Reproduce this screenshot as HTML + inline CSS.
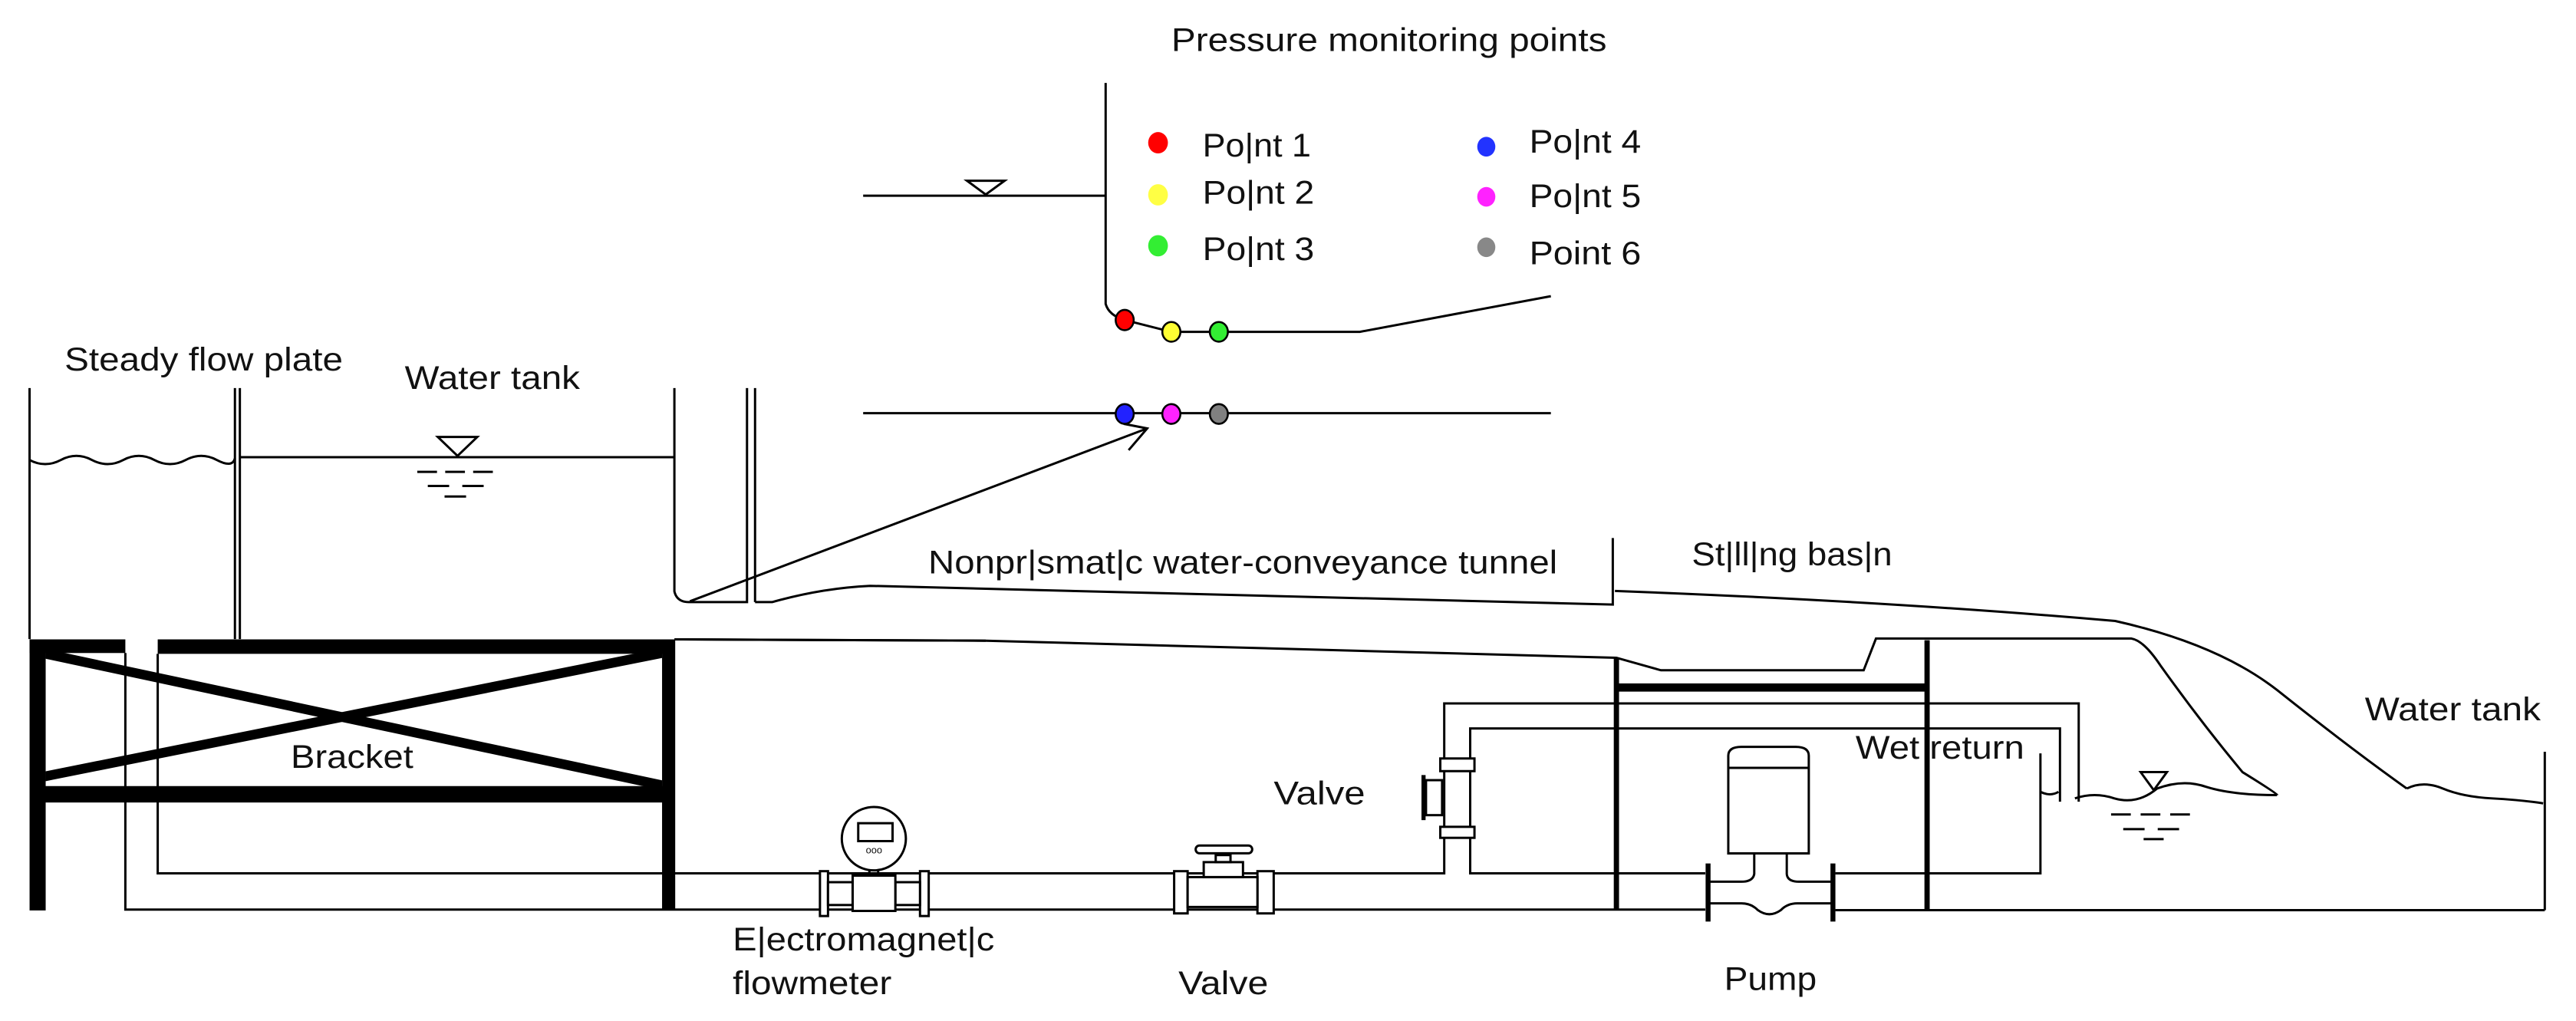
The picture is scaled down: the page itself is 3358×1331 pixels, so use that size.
<!DOCTYPE html>
<html><head><meta charset="utf-8"><style>
html,body{margin:0;padding:0;background:#fff;}
svg{display:block;}
text{font-family:"Liberation Sans",Arial,sans-serif;font-size:20px;fill:#111;}
</style></head><body>
<svg width="3358" height="1331" viewBox="0 0 1568 621.5" xmlns="http://www.w3.org/2000/svg">
<g fill="none" stroke="#000" stroke-width="1.4">
<!-- top detail -->
<line x1="525.4" y1="119.1" x2="673" y2="119.1"/>
<polygon points="588.6,110 611.5,110 600,118.4"/>
<path d="M673 50.5 L673 185 Q675 192 684.6 194.8 L713 202 L827.7 202 L944 180.3"/>
<line x1="525.4" y1="251.5" x2="944" y2="251.5"/>
<!-- arrow -->
<line x1="420" y1="366" x2="698.3" y2="260.8"/>
<polyline points="684,258 698.3,260.8 687,274"/>
<!-- left tank -->
<line x1="18" y1="236.2" x2="18" y2="389"/>
<path d="M18 280 q9.5 5 19 0 t19 0 t19 0 t19 0 t19 0 t19 0 t11 -1"/>
<line x1="143" y1="236.2" x2="143" y2="389"/>
<line x1="146" y1="236.2" x2="146" y2="389"/>
<line x1="146" y1="278.3" x2="410.5" y2="278.3"/>
<polygon points="266.5,266 290.5,266 278.5,277.5"/>
<line x1="254" y1="287.2" x2="300.7" y2="287.2" stroke-dasharray="12,5"/>
<line x1="260.4" y1="295.8" x2="296.5" y2="295.8" stroke-dasharray="13,8"/>
<line x1="270.6" y1="302.2" x2="283.7" y2="302.2"/>
<path d="M410.5 236.2 L410.5 360 Q412 366.5 419.3 366.5 L454.7 366.5 L454.7 236.2"/>
<line x1="459.6" y1="236.2" x2="459.6" y2="366.5"/>
<!-- tunnel -->
<path d="M459.6 366.5 L470 366.5 Q500 358 529.6 356.6 L981.7 368 L981.7 327.5"/>
<path d="M983 359.7 Q1150 366 1287.5 378 Q1350 392 1386 420 Q1430 455 1465 480"/>
<path d="M1465 480 q10 -5 22 0 t30 6 t31 3"/>
<line x1="1549" y1="457.6" x2="1549" y2="554"/>
<path d="M411 389.2 L600 390 L983.9 400.4 L1011 408 L1134.4 408 L1141.9 388.7 L1297.4 388.7 Q1305 390 1315 405 Q1340 440 1365 470 Q1386 483 1386.2 484"/>
<path d="M1263 486 q12 -4 24 0 q14 4 26 -6 q16 -6 30 -1 q16 5 43 5"/>
<path d="M1242 482 q6 3 11 0"/>
<polygon points="1303,470 1319,470 1311,481"/>
<line x1="1285" y1="495.8" x2="1334" y2="495.8" stroke-dasharray="12,6"/>
<line x1="1292.4" y1="504.7" x2="1327" y2="504.7" stroke-dasharray="13,8"/>
<line x1="1304.8" y1="510.8" x2="1317" y2="510.8"/>
<!-- pipes -->
<path d="M76.3 397.5 L76.3 553.7 L1038 553.7"/>
<path d="M1117.2 554 L1549 554"/>
<path d="M96 398 L96 531.6 L879.1 531.6 L879.1 428.2 L1265.3 428.2 L1265.3 488"/>
<path d="M1038 531.6 L894.9 531.6 L894.9 443.4 L1253.9 443.4 L1253.9 488"/>
<path d="M1117.2 531.6 L1242 531.6 L1242 458.6"/>
<!-- flowmeter -->
<rect x="499.1" y="530.3" width="4.9" height="27.3" fill="#fff"/>
<rect x="560" y="530.3" width="5.3" height="27.3" fill="#fff"/>
<rect x="504" y="537" width="15" height="13.9" fill="#fff"/>
<rect x="545" y="537" width="15" height="13.9" fill="#fff"/>
<rect x="519" y="533" width="26" height="21.5" fill="#fff"/>
<line x1="529.2" y1="529" x2="529.2" y2="533"/>
<line x1="534.5" y1="529" x2="534.5" y2="533"/>
<ellipse cx="531.9" cy="510.5" rx="19.5" ry="19.3" fill="#fff"/>
<rect x="522.4" y="501.1" width="20.9" height="10.9"/>
<!-- bottom valve -->
<rect x="714.7" y="530.3" width="8.2" height="25.7" fill="#fff"/>
<rect x="765.4" y="530.3" width="9.9" height="25.7" fill="#fff"/>
<rect x="722.9" y="533.9" width="42.5" height="18.2" fill="#fff"/>
<rect x="732.7" y="524.8" width="23.9" height="9.1" fill="#fff"/>
<rect x="740" y="520.5" width="9" height="4.3"/>
<rect x="727.8" y="514.7" width="34.4" height="4.7" rx="2.3"/>
<!-- vertical valve -->
<rect x="876.7" y="461.7" width="20.8" height="7.7" fill="#fff"/>
<rect x="876.7" y="503.3" width="20.8" height="6.7" fill="#fff"/>
<rect x="868" y="474.9" width="9.8" height="21.3"/>
<line x1="866.5" y1="471.8" x2="866.5" y2="499.2" stroke-width="2.5"/>
<!-- pump -->
<path d="M1052 519.5 L1052 460 Q1052 454.6 1060 454.6 L1093 454.6 Q1101 454.6 1101 460 L1101 519.5 Z" fill="#fff"/>
<line x1="1052" y1="467.4" x2="1101" y2="467.4"/>
<path d="M1067.8 519.5 L1067.8 532 Q1067 536.7 1060 536.7 L1040 536.7"/>
<path d="M1087.6 519.5 L1087.6 532 Q1088 536.7 1095 536.7 L1115 536.7"/>
<path d="M1040 549.9 L1060 549.9 Q1066 549.9 1070 554 Q1077 559 1084 554 Q1088 549.9 1094 549.9 L1115 549.9"/>
<line x1="1039.7" y1="525.6" x2="1039.7" y2="561" stroke-width="3"/>
<line x1="1115.7" y1="525.6" x2="1115.7" y2="561" stroke-width="3"/>
</g>
<!-- thick structure -->
<g fill="#000" stroke="none">
<rect x="18" y="389.2" width="58.3" height="8.3"/>
<rect x="96" y="389.2" width="314.5" height="8.8"/>
<rect x="19.7" y="478.5" width="390.8" height="10"/>
<rect x="18" y="389.2" width="9.8" height="165"/>
<rect x="403" y="389.2" width="8" height="165"/>
<polygon points="27.8,395 27.8,401 403,481 403,475"/>
<polygon points="27.8,469.5 27.8,475.5 403,400.5 403,394.5"/>
<rect x="982.3" y="400.8" width="3.2" height="153.2"/>
<rect x="1171.4" y="389.7" width="3.2" height="164.3"/>
<rect x="984" y="416" width="189" height="5"/>
<line x1="410.5" y1="389.2" x2="411" y2="389.2"/>
</g>
<g stroke="#000" stroke-width="1.4"><line x1="410.5" y1="389.2" x2="600" y2="390"/></g>
<!-- dots -->
<g stroke="#000" stroke-width="1.2">
<ellipse cx="684.6" cy="194.8" rx="5.5" ry="6.2" fill="#ff0000"/>
<ellipse cx="713" cy="202" rx="5.5" ry="6" fill="#ffff33"/>
<ellipse cx="741.9" cy="202" rx="5.5" ry="6" fill="#33ee33"/>
<ellipse cx="684.6" cy="252" rx="5.5" ry="6" fill="#2222ff"/>
<ellipse cx="713" cy="252" rx="5.5" ry="6" fill="#ff22ff"/>
<ellipse cx="741.9" cy="252" rx="5.5" ry="6" fill="#808080"/>
</g>
<g stroke="none">
<ellipse cx="704.9" cy="86.9" rx="6" ry="6.5" fill="#ff0000"/>
<ellipse cx="704.9" cy="118.6" rx="6" ry="6.5" fill="#ffff44"/>
<ellipse cx="704.9" cy="149.6" rx="6" ry="6.5" fill="#33ee33"/>
<ellipse cx="904.7" cy="89.3" rx="5.5" ry="6" fill="#2233ff"/>
<ellipse cx="904.7" cy="119.8" rx="5.5" ry="6" fill="#ff22ff"/>
<ellipse cx="904.7" cy="150.5" rx="5.5" ry="6" fill="#888"/>
</g>
<!-- text -->
<text x="713" y="31" textLength="265" lengthAdjust="spacingAndGlyphs">Pressure monitoring points</text>
<text x="732" y="95.3" textLength="66" lengthAdjust="spacingAndGlyphs">Po|nt 1</text>
<text x="732" y="123.9" textLength="68" lengthAdjust="spacingAndGlyphs">Po|nt 2</text>
<text x="732" y="158.4" textLength="68" lengthAdjust="spacingAndGlyphs">Po|nt 3</text>
<text x="930.9" y="92.9" textLength="68" lengthAdjust="spacingAndGlyphs">Po|nt 4</text>
<text x="930.9" y="126" textLength="68" lengthAdjust="spacingAndGlyphs">Po|nt 5</text>
<text x="930.9" y="160.8" textLength="68" lengthAdjust="spacingAndGlyphs">Point 6</text>
<text x="39.3" y="225.6" textLength="169.4" lengthAdjust="spacingAndGlyphs">Steady flow plate</text>
<text x="246.4" y="236.7" textLength="106.6" lengthAdjust="spacingAndGlyphs">Water tank</text>
<text x="565" y="349" textLength="383" lengthAdjust="spacingAndGlyphs">Nonpr|smat|c water-conveyance tunnel</text>
<text x="1029.8" y="344.1" textLength="122" lengthAdjust="spacingAndGlyphs">St|ll|ng bas|n</text>
<text x="1439.5" y="438.4" textLength="107" lengthAdjust="spacingAndGlyphs">Water tank</text>
<text x="177" y="467.4" textLength="74.6" lengthAdjust="spacingAndGlyphs">Bracket</text>
<text x="1129.5" y="461.7" textLength="102.7" lengthAdjust="spacingAndGlyphs">Wet return</text>
<text x="775.3" y="489.7" textLength="55.7" lengthAdjust="spacingAndGlyphs">Valve</text>
<text x="446" y="578.6" textLength="159.3" lengthAdjust="spacingAndGlyphs">E|ectromagnet|c</text>
<text x="446" y="605.2" textLength="96.7" lengthAdjust="spacingAndGlyphs">flowmeter</text>
<text x="717.3" y="605.2" textLength="54.7" lengthAdjust="spacingAndGlyphs">Valve</text>
<text x="1049.5" y="602.6" textLength="56.3" lengthAdjust="spacingAndGlyphs">Pump</text>
<text x="532" y="519.5" text-anchor="middle" style="font-size:6px">ooo</text>
</svg>
</body></html>
